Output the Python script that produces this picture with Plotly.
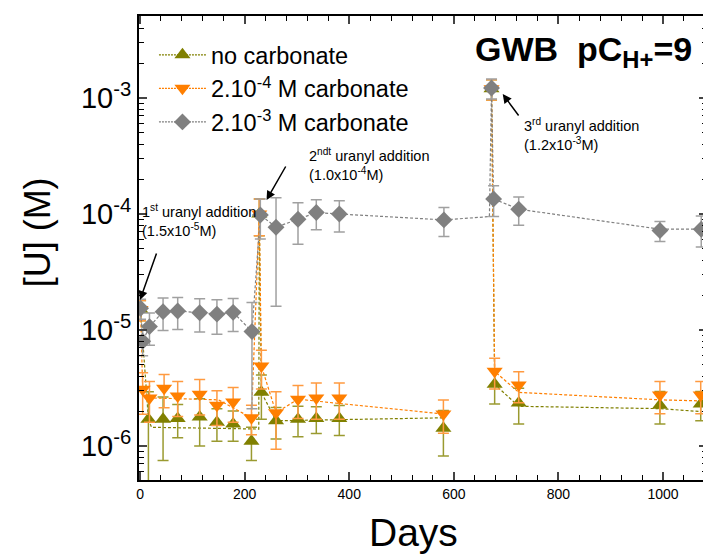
import plotly.graph_objects as go

# ---------------- data ----------------
# no carbonate (olive, triangle-up)
nc_days = [1, 16, 44, 72, 114, 147, 178, 213, 228, 232, 260, 302, 337, 381, 580, 672, 678, 724, 994, 1072]
nc_vals = [1.5e-5, 1.7e-6, 1.7e-6, 1.73e-6, 1.78e-6, 1.6e-6, 1.55e-6, 1.1e-6, 1.0e-4, 2.9e-6,
           1.65e-6, 1.7e-6, 1.73e-6, 1.73e-6, 1.42e-6, 1.2e-3, 3.4e-6, 2.35e-6, 2.25e-6, 2.3e-6]
nc_err = [3e-6, 1.24e-6, 0.95e-6, 0.55e-6, 0.78e-6, 0.5e-6, 0.45e-6, 0.35e-6, 3.5e-5, 1.2e-6,
          0.5e-6, 0.5e-6, 0.45e-6, 0.5e-6, 0.6e-6, 2.4e-4, 1.1e-6, 0.8e-6, 0.7e-6, 0.65e-6]
nc_line_days = [1, 16, 22, 213, 227, 228, 232, 260, 580, None, 672, 678, 724, 994, 1072]
nc_line_vals = [1.5e-5, 1.7e-6, 1.45e-6, 1.4e-6, 1.4e-6, 1.0e-4, 2.9e-6, 1.65e-6, 1.75e-6, None,
                1.2e-3, 3.4e-6, 2.2e-6, 2.1e-6, 1.98e-6]

# 2.10^-4 M carbonate (orange, triangle-down)
c4_days = [1, 5, 18, 46, 72, 114, 147, 178, 213, 228, 232, 260, 302, 337, 381, 580, 672, 678, 724, 994, 1072]
c4_vals = [1.5e-5, 3.08e-6, 2.6e-6, 3.14e-6, 2.7e-6, 2.8e-6, 2.25e-6, 2.4e-6, 1.75e-6, 1.0e-4, 4.9e-6,
           1.94e-6, 2.53e-6, 2.6e-6, 2.6e-6, 1.89e-6, 1.2e-3, 4.4e-6, 3.36e-6, 2.75e-6, 2.75e-6]
c4_err = [3e-6, 1.2e-6, 1.0e-6, 1.0e-6, 0.9e-6, 0.95e-6, 0.75e-6, 0.8e-6, 0.5e-6, 3.5e-5, 1.8e-6,
          1.0e-6, 0.8e-6, 0.9e-6, 0.9e-6, 0.6e-6, 2.4e-4, 1.3e-6, 1.0e-6, 0.85e-6, 0.85e-6]
c4_line_days = [1, 5, 18, 150, 213, 228, 232, 260, 302, 580, None, 672, 678, 724, 994, 1072]
c4_line_vals = [1.5e-5, 3.08e-6, 2.6e-6, 2.5e-6, 1.75e-6, 1.0e-4, 4.9e-6, 1.94e-6, 2.53e-6, 1.89e-6, None,
                1.2e-3, 4.4e-6, 2.9e-6, 2.5e-6, 2.45e-6]

# 2.10^-3 M carbonate (grey, diamond)
c3_days = [1, 5, 18, 44, 72, 114, 147, 178, 214, 230, 260, 302, 337, 381, 581, 672, 676, 724, 994, 1073]
c3_vals = [1.54e-5, 8.0e-6, 1.07e-5, 1.44e-5, 1.46e-5, 1.41e-5, 1.37e-5, 1.42e-5, 9.7e-6, 9.8e-5,
           7.7e-5, 9.0e-5, 1.03e-4, 1.0e-4, 8.9e-5, 1.22e-3, 1.35e-4, 1.1e-4, 7.2e-5, 7.4e-5]
c3_err = [3e-6, 2e-6, 3.3e-6, 4.5e-6, 4.5e-6, 4.5e-6, 4.5e-6, 4.5e-6, 7.6e-6, 3.7e-5,
          6.1e-5, 3.5e-5, 3e-5, 3e-5, 2.5e-5, 2.4e-4, 4e-5, 3e-5, 1.4e-5, 2.2e-5]
c3_line_days = [1, 5, 18, 44, 72, 114, 147, 178, 214, 230, 260, 302, 337, 381, 581, 668, 672, 676, 724,
                994, 1073]
c3_line_vals = [1.54e-5, 8.0e-6, 1.07e-5, 1.44e-5, 1.46e-5, 1.41e-5, 1.37e-5, 1.42e-5, 9.7e-6, 9.8e-5,
                7.7e-5, 9.0e-5, 1.03e-4, 1.0e-4, 8.9e-5, 9.5e-5, 1.22e-3, 1.35e-4, 1.1e-4, 7.4e-5, 7.4e-5]

names = ["no carbonate", "2.10<sup>-4</sup> M carbonate", "2.10<sup>-3</sup> M carbonate"]
y_tick_vals = [1e-6, 1e-5, 1e-4, 1e-3]
y_tick_text = ["10<sup>-6</sup>", "10<sup>-5</sup>", "10<sup>-4</sup>", "10<sup>-3</sup>"]
x_tick_vals = [0, 200, 400, 600, 800, 1000]

OLIVE = "#808000"
OLIVE_E = "#9a9a30"
ORANGE = "#ff7f00"
ORANGE_E = "#ff9a40"
GREY = "#808080"
GREY_E = "#a0a0a0"
FONT = "Arial, Liberation Sans, sans-serif"

fig = go.Figure()

def add_series(days, vals, err, ldays, lvals, color, ecolor, symbol, size, name):
    fig.add_trace(go.Scatter(x=ldays, y=lvals, mode="lines", showlegend=False, connectgaps=False,
                             line=dict(color=color, width=1.2, dash="3px,2px"), hoverinfo="skip"))
    fig.add_trace(go.Scatter(x=days, y=vals, mode="markers", showlegend=False,
                             marker=dict(symbol=symbol, size=size, color=color, line=dict(width=0)),
                             error_y=dict(type="data", array=err, visible=True, color=ecolor,
                                          thickness=1.5, width=5.5)))
    fig.add_trace(go.Scatter(x=[None], y=[None], mode="lines+markers", name=name,
                             line=dict(color=color, width=1.2, dash="2px,1px"),
                             marker=dict(symbol=symbol, size=size, color=color)))

add_series(nc_days, nc_vals, nc_err, nc_line_days, nc_line_vals, OLIVE, OLIVE_E, "triangle-up", 14, names[0])
add_series(c4_days, c4_vals, c4_err, c4_line_days, c4_line_vals, ORANGE, ORANGE_E, "triangle-down", 14, names[1])
add_series(c3_days, c3_vals, c3_err, c3_line_days, c3_line_vals, GREY, GREY_E, "diamond", 13, names[2])

minor_y = [m * 10.0 ** e for e in range(-7, -2) for m in range(2, 10)]

fig.update_xaxes(range=[-2, 1084], tickvals=x_tick_vals, ticks="inside", ticklen=8, tickwidth=1.5,
                 showline=True, linewidth=2, linecolor="black", mirror="ticks", showgrid=False,
                 zeroline=False, tickfont=dict(family=FONT, size=14, color="black"),
                 minor=dict(dtick=40, tick0=0, ticks="inside", ticklen=5, tickwidth=1.2, tickcolor="black"))
fig.update_yaxes(type="log", range=[-6.293, -2.293], tickvals=y_tick_vals, ticktext=y_tick_text,
                 ticks="inside", ticklen=8, tickwidth=1.5, showline=True, linewidth=2, linecolor="black",
                 mirror="ticks", showgrid=False, zeroline=False,
                 tickfont=dict(family=FONT, size=29, color="black"),
                 minor=dict(tickvals=minor_y, ticks="inside", ticklen=5, tickwidth=1.2, tickcolor="black"))

# plot area in page pixels: left 139, right 709, top 16, bottom 480 (page has an 8px body margin)
def px2paper(px, py):
    return (px - 139) / 570.0, (480 - py) / 464.0

annos = []
annos.append(dict(text="Days", xref="paper", yref="paper", x=px2paper(414, 0)[0], y=px2paper(0, 532)[1],
                  xanchor="center", yanchor="middle", showarrow=False,
                  font=dict(family=FONT, size=39, color="black")))
annos.append(dict(text="[U] (M)", xref="paper", yref="paper", x=px2paper(37, 0)[0], y=px2paper(0, 232)[1],
                  xanchor="center", yanchor="middle", showarrow=False, textangle=-90,
                  font=dict(family=FONT, size=36, color="black")))
tx, ty = px2paper(474, 51)
annos.append(dict(text="<b>GWB&nbsp; pC<sub>H+</sub>=9</b>", xref="paper", yref="paper", x=tx, y=ty,
                  xanchor="left", yanchor="middle", showarrow=False,
                  font=dict(family=FONT, size=34, color="black")))

def addition(label, conc, lx, ly, tail, tip):
    x, y = px2paper(lx, ly)
    annos.append(dict(text=label + "<br>" + conc, xref="paper", yref="paper", x=x, y=y,
                      xanchor="left", yanchor="top", align="left", showarrow=False,
                      font=dict(family=FONT, size=14.5, color="black")))
    hx, hy = px2paper(*tip)
    annos.append(dict(text="", xref="paper", yref="paper", x=hx, y=hy, showarrow=True,
                      ax=tail[0] - tip[0], ay=tail[1] - tip[1], arrowhead=2, arrowsize=1.2,
                      arrowwidth=1.5, arrowcolor="black", standoff=0))

addition("1<sup>st</sup> uranyl addition", "(1.5x10<sup>-5</sup>M)", 140, 200, (157, 252), (140, 300))
addition("2<sup>ndt</sup> uranyl addition", "(1.0x10<sup>-4</sup>M)", 308, 144, (287, 165), (267, 200))
addition("3<sup>rd</sup> uranyl addition", "(1.2x10<sup>-3</sup>M)", 523, 114, (521, 117), (504, 94))

lx, ly = px2paper(154, 33)
fig.update_layout(
    width=703, height=551, margin=dict(l=131, r=2, t=8, b=79),
    paper_bgcolor="white", plot_bgcolor="white",
    showlegend=True,
    legend=dict(x=lx, y=ly, xanchor="left", yanchor="top", bgcolor="rgba(0,0,0,0)",
                font=dict(family=FONT, size=23.5, color="black"), tracegroupgap=0, itemwidth=47),
    annotations=annos,
)

fig.write_html("out.html")
